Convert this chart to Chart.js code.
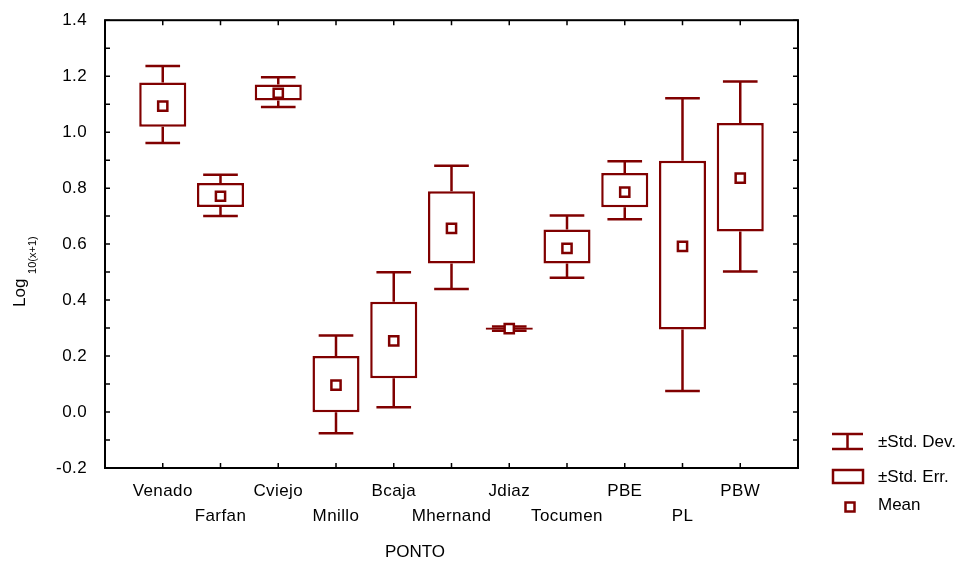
<!DOCTYPE html>
<html>
<head>
<meta charset="utf-8">
<script src="https://cdn.jsdelivr.net/npm/chart.js@4.4.1/dist/chart.umd.min.js"></script>
<style>
  html, body { margin: 0; padding: 0; background: #fff; }
  #chart { display: block; }
</style>
</head>
<body>
<canvas id="chart" width="966" height="566"></canvas>
<script>
// Data (Log10(x+1) per sampling point)
const categories = ['Venado', 'Farfan', 'Cviejo', 'Mnillo', 'Bcaja', 'Mhernand', 'Jdiaz', 'Tocumen', 'PBE', 'PL', 'PBW'];
const means  = [1.093, 0.771, 1.139, 0.096, 0.254, 0.656, 0.298, 0.585, 0.786, 0.592, 0.836];
const seLow  = [1.019, 0.733, 1.113, -0.001, 0.121, 0.531, 0.294, 0.531, 0.732, 0.295, 0.645];
const seHigh = [1.177, 0.818, 1.170, 0.200, 0.394, 0.789, 0.302, 0.652, 0.854, 0.898, 1.033];
const sdLow  = [0.961, 0.700, 1.090, -0.076, 0.017, 0.440, 0.290, 0.480, 0.689, 0.075, 0.502];
const sdHigh = [1.236, 0.848, 1.196, 0.273, 0.499, 0.880, 0.306, 0.702, 0.896, 1.121, 1.181];
const yMin = -0.2, yMax = 1.4, yStep = 0.1;

const RED = '#800000';
const FONT = '"Liberation Sans", Arial, sans-serif';
const LW = 2.5;
const capHalf = 0.3;

// whiskers: stems + caps, broken with null points
const whiskers = [];
categories.forEach((c, i) => {
  const x = i + 1;
  whiskers.push({x: x, y: seHigh[i]}, {x: x, y: sdHigh[i]}, {x: x, y: null});
  whiskers.push({x: x - capHalf, y: sdHigh[i]}, {x: x + capHalf, y: sdHigh[i]}, {x: x, y: null});
  whiskers.push({x: x, y: seLow[i]}, {x: x, y: sdLow[i]}, {x: x, y: null});
  whiskers.push({x: x - capHalf, y: sdLow[i]}, {x: x + capHalf, y: sdLow[i]}, {x: x, y: null});
});

// inward tick marks, frame, titles and legend
const framePlugin = {
  id: 'frame',
  beforeDraw(chart) {
    // the axis labels in the original are a bit wider spaced
    chart.ctx.letterSpacing = '0.4px';
  },
  afterDatasetsDraw(chart) {
    const {ctx, chartArea: a, scales: {x, y}} = chart;
    ctx.save();
    ctx.strokeStyle = '#000';
    ctx.lineWidth = 1.5;
    ctx.beginPath();
    y.ticks.forEach(t => {
      const py = y.getPixelForValue(t.value);
      ctx.moveTo(a.left, py); ctx.lineTo(a.left + 5, py);
      ctx.moveTo(a.right, py); ctx.lineTo(a.right - 5, py);
    });
    x.ticks.forEach(t => {
      if (t.value <= 0 || t.value >= 12) return;
      const px = x.getPixelForValue(t.value);
      ctx.moveTo(px, a.bottom); ctx.lineTo(px, a.bottom - 5);
      ctx.moveTo(px, a.top); ctx.lineTo(px, a.top + 5);
    });
    ctx.stroke();
    ctx.lineWidth = 2;
    ctx.strokeRect(a.left, a.top, a.width, a.height);
    ctx.restore();
  },
  afterDraw(chart) {
    const ctx = chart.ctx;
    ctx.save();
    ctx.letterSpacing = '0px';
    ctx.fillStyle = '#000';
    // y title with subscript
    ctx.save();
    ctx.translate(25, 307);
    ctx.rotate(-Math.PI / 2);
    ctx.textAlign = 'left';
    ctx.textBaseline = 'alphabetic';
    ctx.font = '17px ' + FONT;
    ctx.fillText('Log', 0, 0);
    const w = ctx.measureText('Log ').width;
    ctx.font = '11px ' + FONT;
    ctx.fillText('10(x+1)', w, 11);
    ctx.restore();
    // x title
    ctx.font = '17px ' + FONT;
    ctx.textAlign = 'center';
    ctx.textBaseline = 'middle';
    ctx.fillText('PONTO', 415, 552);
    // legend
    ctx.strokeStyle = RED;
    ctx.lineWidth = LW;
    ctx.beginPath();
    ctx.moveTo(832, 434); ctx.lineTo(863, 434);
    ctx.moveTo(832, 449); ctx.lineTo(863, 449);
    ctx.moveTo(847.5, 434); ctx.lineTo(847.5, 449);
    ctx.stroke();
    ctx.strokeRect(833, 470, 30, 13);
    ctx.strokeRect(845.5, 502.5, 9, 9);
    ctx.textAlign = 'left';
    ctx.fillText('\u00b1Std. Dev.', 878, 442);
    ctx.fillText('\u00b1Std. Err.', 878, 477);
    ctx.fillText('Mean', 878, 505);
    ctx.restore();
  }
};

new Chart(document.getElementById('chart'), {
  type: 'bar',
  data: {
    datasets: [
      {
        type: 'scatter',
        label: 'Mean',
        data: categories.map((c, i) => ({x: i + 1, y: means[i]})),
        pointStyle: 'rect',
        pointRadius: 6.5,
        borderWidth: LW,
        borderColor: RED,
        backgroundColor: '#fff',
        order: 0
      },
      {
        type: 'bar',
        label: '\u00b1Std. Err.',
        data: categories.map((c, i) => ({x: i + 1, y: [seLow[i], seHigh[i]]})),
        backgroundColor: '#fff',
        borderColor: RED,
        borderWidth: LW,
        borderSkipped: false,
        barPercentage: 1,
        categoryPercentage: 0.815,
        order: 1
      },
      {
        type: 'line',
        label: '\u00b1Std. Dev.',
        data: whiskers,
        borderColor: RED,
        borderWidth: LW,
        pointRadius: 0,
        spanGaps: false,
        fill: false,
        order: 2
      }
    ]
  },
  options: {
    responsive: false,
    animation: false,
    devicePixelRatio: 1,
    layout: { padding: { top: 13, right: 168, left: 0, bottom: 0 } },
    plugins: { legend: { display: false }, tooltip: { enabled: false } },
    scales: {
      x: {
        type: 'linear',
        min: 0,
        max: 12,
        offset: false,
        grid: { display: false },
        border: { display: false },
        ticks: {
          stepSize: 1,
          autoSkip: false,
          maxRotation: 0,
          padding: 3,
          color: '#000',
          font: { family: FONT, size: 17, lineHeight: 1.47 },
          callback: v => {
            const c = categories[v - 1];
            if (!c) return '';
            return (v % 2 === 1) ? c : ['', c];
          }
        },
        afterFit: s => { s.height = 98; }
      },
      y: {
        type: 'linear',
        min: yMin,
        max: yMax,
        grid: { display: false },
        border: { display: false },
        ticks: {
          stepSize: yStep,
          autoSkip: false,
          padding: 10,
          color: '#000',
          font: { family: FONT, size: 17 },
          callback: v => Math.round(v * 10) % 2 === 0 ? (Math.abs(v) < 1e-9 ? 0 : v).toFixed(1) : ''
        },
        afterFit: s => { s.width = 105; }
      }
    }
  },
  plugins: [framePlugin]
});
</script>
</body>
</html>
